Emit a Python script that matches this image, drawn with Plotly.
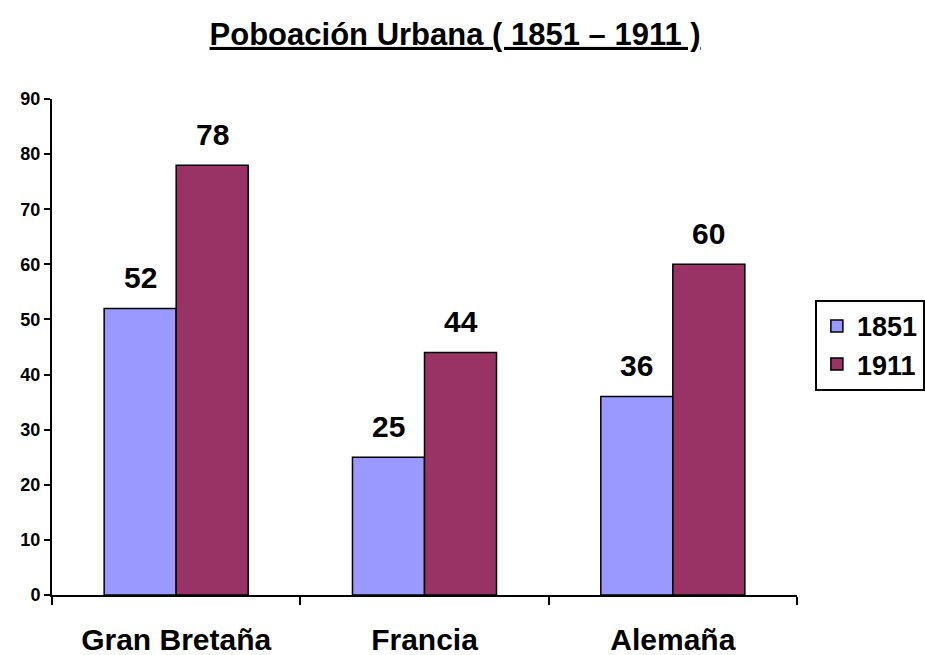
import plotly.graph_objects as go

categories = ["Gran Bretaña", "Francia", "Alemaña"]
series_names = ["1851", "1911"]
values_1851 = [52, 25, 36]
values_1911 = [78, 44, 60]
colors = ["#9999FF", "#993366"]
tick_vals = [0, 10, 20, 30, 40, 50, 60, 70, 80, 90]

FONT = "Liberation Sans, Arial, sans-serif"

fig = go.Figure()
for name, vals, col in zip(series_names, [values_1851, values_1911], colors):
    fig.add_trace(go.Bar(
        x=categories, y=vals, name=name,
        marker=dict(color=col, line=dict(color="black", width=1.5)),
    ))

annotations = []
for vals, shift in [(values_1851, -36), (values_1911, 36)]:
    for c, v in zip(categories, vals):
        annotations.append(dict(
            x=c, y=v, xref="x", yref="y", text=str(v), showarrow=False,
            xshift=shift, yshift=31,
            font=dict(family=FONT, size=30, color="black", weight="bold"),
        ))

fig.update_layout(
    width=925, height=655,
    margin=dict(l=52, r=128, t=99, b=60, autoexpand=False),
    paper_bgcolor="white", plot_bgcolor="white",
    barmode="group", bargap=0.42, bargroupgap=0,
    title=dict(text="<u>Poboación Urbana ( 1851 – 1911 )</u>", x=0.492, xanchor="center",
               y=0.948, yanchor="middle",
               font=dict(family=FONT, size=31, color="black", weight="bold")),
    font=dict(family=FONT, color="black"),
    showlegend=True,
    legend=dict(x=1.024, y=0.595, xanchor="left", yanchor="top",
                bordercolor="black", borderwidth=2, bgcolor="white",
                font=dict(family=FONT, size=27, color="black", weight="bold"),
                tracegroupgap=0, itemwidth=30),
    annotations=annotations,
)
fig.update_xaxes(
    automargin=False,
    showline=True, linecolor="black", linewidth=2,
    ticks="outside", tickson="boundaries", ticklen=8, tickwidth=2, tickcolor="black",
    ticklabelstandoff=17,
    tickfont=dict(family=FONT, size=30, color="black", weight="bold"),
)
fig.update_yaxes(
    automargin=False,
    range=[0, 90], tickvals=tick_vals, showgrid=False, zeroline=False,
    showline=True, linecolor="black", linewidth=2,
    ticks="outside", ticklen=6, tickwidth=2, tickcolor="black",
    tickfont=dict(family=FONT, size=18, color="black", weight="bold"),
)

fig.write_html("out.html", config={"displayModeBar": False},
               post_script="document.body.style.margin='0';")
